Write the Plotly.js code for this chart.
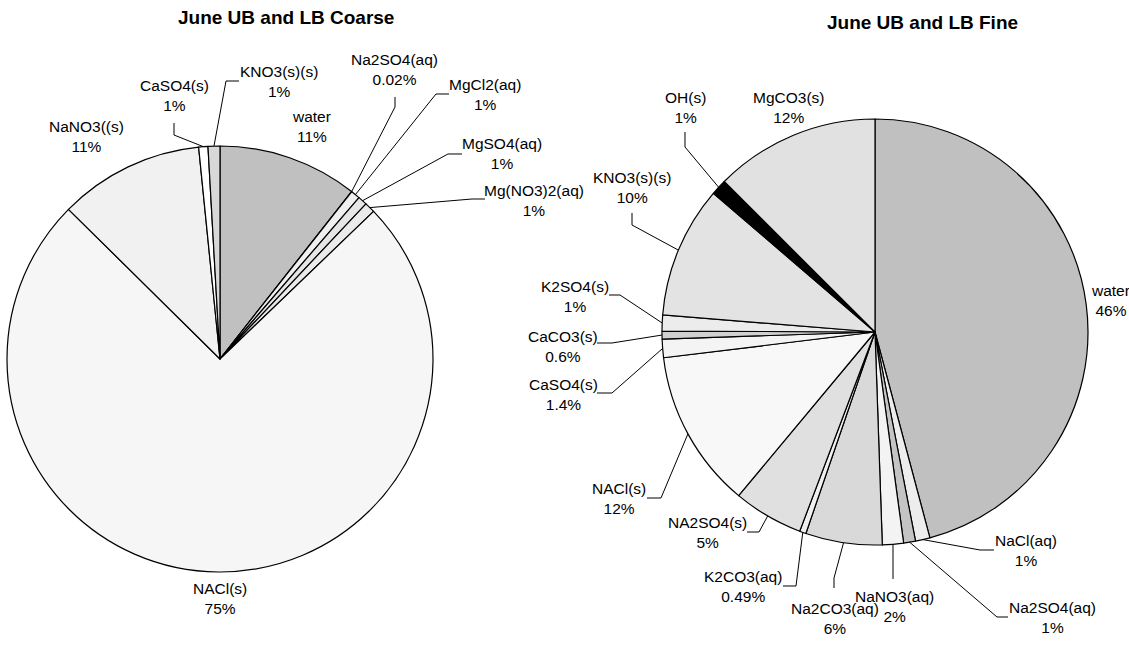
<!DOCTYPE html>
<html>
<head>
<meta charset="utf-8">
<script src="https://cdn.plot.ly/plotly-3.0.1.min.js"></script>
<style>html,body{margin:0;padding:0;background:#fff;}#chart{width:1129px;height:646px;}</style>
</head>
<body>
<div id="chart"></div>
<script>
// ---------- DATA ----------
const coarseTitle = "June UB and LB Coarse";
const coarseLabels = ["water", "Na2SO4(aq)", "MgCl2(aq)", "MgSO4(aq)", "Mg(NO3)2(aq)", "NACl(s)", "NaNO3((s)", "CaSO4(s)", "KNO3(s)(s)"];
const coarseValues = [10.6, 0.02, 0.7, 0.7, 0.8, 74.6, 11.0, 0.7, 0.9];
const coarsePctText = ["11%", "0.02%", "1%", "1%", "1%", "75%", "11%", "1%", "1%"];

const fineTitle = "June UB and LB Fine";
const fineLabels = ["water", "NaCl(aq)", "Na2SO4(aq)", "NaNO3(aq)", "Na2CO3(aq)", "K2CO3(aq)", "NA2SO4(s)", "NACl(s)", "CaSO4(s)", "CaCO3(s)", "K2SO4(s)", "KNO3(s)(s)", "OH(s)", "MgCO3(s)"];
const fineValues = [45.8, 1.1, 0.9, 1.6, 5.8, 0.49, 5.3, 12.0, 1.4, 0.6, 1.2, 10.0, 1.2, 12.5];
const finePctText = ["46%", "1%", "1%", "2%", "6%", "0.49%", "5%", "12%", "1.4%", "0.6%", "1%", "10%", "1%", "12%"];

// ---------- STYLE / LAYOUT ----------
const W = 1129, H = 646;
const FONT = "'Liberation Sans', Arial, sans-serif";
const LABEL_SIZE = 15.5, TITLE_SIZE = 19;
const coarseColors = ["#c0c0c0", "#e8e8e8", "#f0f0f0", "#e6e6e6", "#ebebeb", "#f6f6f6", "#f1f1f1", "#ffffff", "#d8d8d8"];
const fineColors = ["#c0c0c0", "#ededed", "#c4c4c4", "#f3f3f3", "#d9d9d9", "#f0f0f0", "#e0e0e0", "#f8f8f8", "#f4f4f4", "#d0d0d0", "#ececec", "#e3e3e3", "#000000", "#e1e1e1"];

const coarseGeom = {cx: 220, cy: 359, r: 213, title: [286, 18]};
const fineGeom = {cx: 875, cy: 332, r: 213, title: [922, 23]};

// label centres (px) and leader-line points from label toward slice (px), null = no leader
const coarseLabelPos = [[311,126],[394,69],[485,94],[502,154],[534,200],[220,598],[86,136],[174,96],[279,81]];
const coarseLeaders = [null, [[395,97],[395,107]], [[449,94],[436,94]], [[462,154],[448,154]], [[485,199],[472,199]], null, null, [[174,123],[174,135]], [[239,81],[226,81]]];

const fineLabelPos = [[1110,300],[1026,550],[1052,617],[894,606],[835,618],[743,586],[707,532],[619,498],[563,394],[563,346],[575,296],[632,187],[685,107],[788,107]];
const fineLeaders = [null, [[994,550],[980,550]], [[1008,617],[997,617]], [[893,579],[893,570]], [[834,588],[834,578]], [[783,586],[796,586]], [[747,532],[759,532]], [[647,498],[661,498]], [[597,393],[612,393]], [[597,343],[612,343]], [[609,295],[620,295]], [[632,213],[632,225]], [[685,132],[685,147]], null];

function px2paper(p) { return [p[0] / W, 1 - p[1] / H]; }

function makePie(labels, values, colors, g) {
  return {
    type: 'pie', labels: labels, values: values, sort: false, direction: 'clockwise', rotation: 0,
    textinfo: 'none', hoverinfo: 'skip', showlegend: false,
    marker: {colors: colors, line: {color: '#000', width: 1.2}},
    domain: {x: [(g.cx - g.r) / W, (g.cx + g.r) / W], y: [1 - (g.cy + g.r) / H, 1 - (g.cy - g.r) / H]}
  };
}

function midEdges(values, g) {
  const total = values.reduce((a, b) => a + b, 0);
  let cum = 0; const pts = [];
  values.forEach(v => {
    const mid = (cum + v / 2) / total * 2 * Math.PI;
    pts.push([g.cx + g.r * Math.sin(mid), g.cy - g.r * Math.cos(mid)]);
    cum += v;
  });
  return pts;
}

const annotations = [];
const shapes = [];

function addLabels(labels, pct, values, g, pos, leaders) {
  const edges = midEdges(values, g);
  labels.forEach((lab, i) => {
    const p = px2paper(pos[i]);
    annotations.push({xref: 'paper', yref: 'paper', x: p[0], y: p[1], xanchor: 'center', yanchor: 'middle',
      text: lab + '<br>' + pct[i], showarrow: false, align: 'center',
      font: {family: FONT, size: LABEL_SIZE, color: '#000'}});
    if (leaders[i]) {
      const pts = leaders[i].concat([edges[i]]).map(px2paper);
      const path = pts.map((q, k) => (k === 0 ? 'M' : 'L') + q[0].toFixed(5) + ',' + q[1].toFixed(5)).join(' ');
      shapes.push({type: 'path', xref: 'paper', yref: 'paper', path: path, line: {color: '#000', width: 1}});
    }
  });
}

addLabels(coarseLabels, coarsePctText, coarseValues, coarseGeom, coarseLabelPos, coarseLeaders);
addLabels(fineLabels, finePctText, fineValues, fineGeom, fineLabelPos, fineLeaders);

[[coarseTitle, coarseGeom.title], [fineTitle, fineGeom.title]].forEach(t => {
  const p = px2paper(t[1]);
  annotations.push({xref: 'paper', yref: 'paper', x: p[0], y: p[1], xanchor: 'center', yanchor: 'middle',
    text: '<b>' + t[0] + '</b>', showarrow: false, font: {family: FONT, size: TITLE_SIZE, color: '#000'}});
});

const data = [
  makePie(coarseLabels, coarseValues, coarseColors, coarseGeom),
  makePie(fineLabels, fineValues, fineColors, fineGeom)
];

const layout = {
  width: W, height: H, margin: {l: 0, r: 0, t: 0, b: 0},
  paper_bgcolor: '#fff', plot_bgcolor: '#fff',
  annotations: annotations, shapes: shapes, showlegend: false
};

Plotly.newPlot('chart', data, layout, {displayModeBar: false, staticPlot: true});
</script>
</body>
</html>
